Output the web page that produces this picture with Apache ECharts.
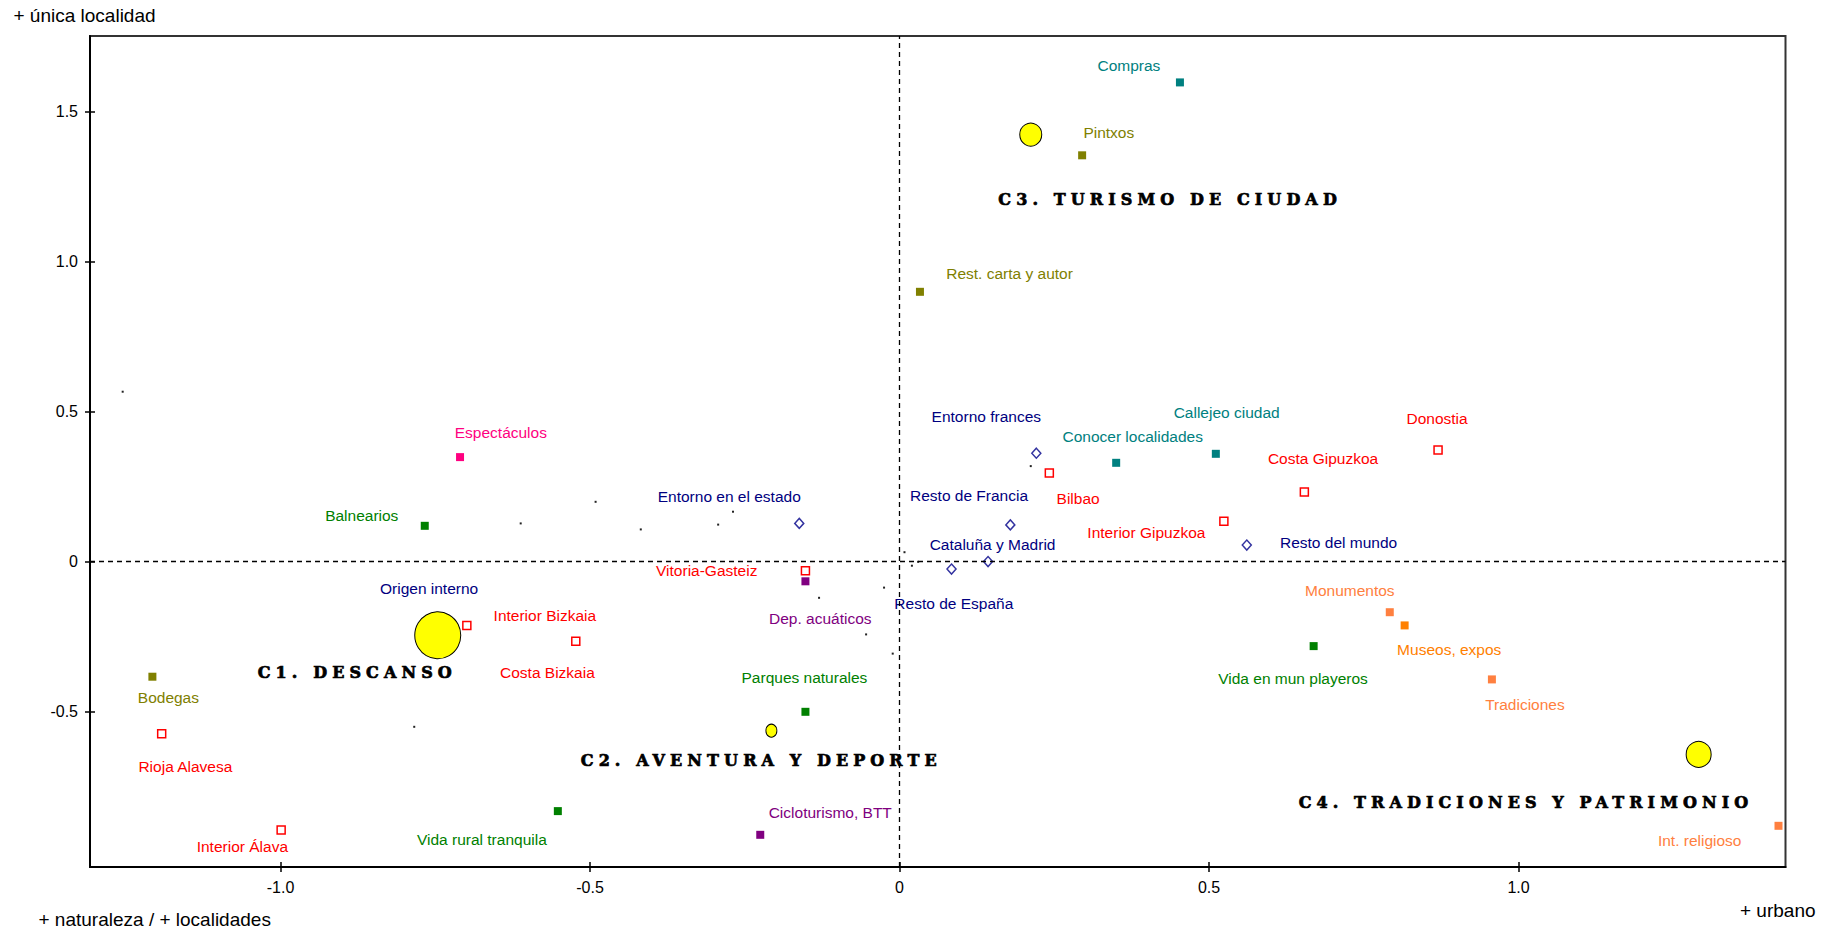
<!DOCTYPE html>
<html><head><meta charset="utf-8">
<script src="https://cdn.jsdelivr.net/npm/echarts@6/dist/echarts.min.js"></script>
<style>html,body{margin:0;padding:0;background:#fff}#chart{width:1833px;height:932px}</style>
</head><body><div id="chart"></div>
<script>
// ---------- axis ----------
const xRange = [-1.3078, 1.4313];
const yRange = [-1.0183, 1.7517];
const xTicks = [-1.0, -0.5, 0, 0.5, 1.0];
const yTicks = [-0.5, 0, 0.5, 1.0, 1.5];
const axisTitles = ['+ única localidad', '+ naturaleza / + localidades', '+ urbano'];

// ---------- city activities (teal) ----------
const cityNames = ['Compras', 'Conocer localidades', 'Callejeo ciudad'];
const cityX = [0.453, 0.350, 0.511];
const cityY = [1.597, 0.329, 0.359];

// ---------- gastronomy (olive) ----------
const gastroNames = ['Pintxos', 'Rest. carta y autor', 'Bodegas'];
const gastroX = [0.295, 0.033, -1.207];
const gastroY = [1.354, 0.899, -0.384];

// ---------- nature (green) ----------
const natureNames = ['Balnearios', 'Parques naturales', 'Vida rural tranquila', 'Vida en mun playeros'];
const natureX = [-0.767, -0.152, -0.552, 0.669];
const natureY = [0.119, -0.501, -0.832, -0.282];

// ---------- shows (pink) ----------
const showNames = ['Espectáculos'];
const showX = [-0.710];
const showY = [0.348];

// ---------- sport (purple) ----------
const sportNames = ['Dep. acuáticos', 'Cicloturismo, BTT'];
const sportX = [-0.152, -0.225];
const sportY = [-0.066, -0.911];

// ---------- heritage (salmon) ----------
const heritageNames = ['Monumentos', 'Tradiciones', 'Int. religioso'];
const heritageX = [0.792, 0.957, 1.420];
const heritageY = [-0.169, -0.393, -0.881];

// ---------- museums (orange) ----------
const museumNames = ['Museos, expos'];
const museumX = [0.816];
const museumY = [-0.213];

// ---------- destinations (red, hollow) ----------
const destNames = ['Donostia', 'Costa Gipuzkoa', 'Bilbao', 'Interior Gipuzkoa', 'Vitoria-Gasteiz', 'Interior Bizkaia', 'Costa Bizkaia', 'Rioja Alavesa', 'Interior Álava'];
const destX = [0.870, 0.654, 0.242, 0.524, -0.152, -0.699, -0.523, -1.192, -0.999];
const destY = [0.372, 0.232, 0.295, 0.134, -0.031, -0.213, -0.266, -0.574, -0.895];

// ---------- origin (navy, hollow diamonds) ----------
const originNames = ['Entorno frances', 'Resto de Francia', 'Cataluña y Madrid', 'Resto de España', 'Resto del mundo', 'Entorno en el estado', 'Origen interno'];
const originX = [0.221, 0.179, 0.143, 0.084, 0.561, -0.162, -0.760];
const originY = [0.361, 0.122, 0.000, -0.025, 0.055, 0.127, -0.195];

// ---------- cluster centroids ----------
const clusterNames = ['C1. DESCANSO', 'C2. AVENTURA Y DEPORTE', 'C3. TURISMO DE CIUDAD', 'C4. TRADICIONES Y PATRIMONIO'];
const clusterX = [-0.746, -0.207, 0.212, 1.291];
const clusterY = [-0.246, -0.564, 1.423, -0.643];

// ---------- unlabeled minor points ----------
const dotX = [-1.255, -0.612, -0.491, -0.418, -0.293, -0.269, -0.130, -0.025, -0.054, -0.011, 0.008, 0.020, 0.030, 0.212, -0.784];
const dotY = [0.566, 0.127, 0.199, 0.107, 0.123, 0.166, -0.121, -0.087, -0.243, -0.307, 0.031, -0.014, -0.001, 0.318, -0.551];

// ---------- label placement (px offsets from marker centre) ----------
const cityLabelOff = [[-51, -17], [16.5, -26], [10.8, -41.4]];
const gastroLabelOff = [[26.7, -22.6], [89.6, -18.4], [16, 21]];
const natureLabelOff = [[-63, -10], [-1, -34.4], [-76, 28.3], [-20.6, 32]];
const showLabelOff = [[40.8, -24.7]];
const sportLabelOff = [[14.8, 37], [70, -22.4]];
const heritageLabelOff = [[-40, -21.6], [33, 25.4], [-78.8, 15]];
const museumLabelOff = [[44.6, 24]];
const destLabelOff = [[-1, -31.5], [18.7, -33], [28.8, 25.3], [-77.5, 11], [-98.7, -0.7], [78, -9.6], [-28.4, 31.4], [23.7, 32.3], [-38.8, 16.7]];
const originLabelOff = [[-50, -36.7], [-41.3, -29.3], [4.5, -16.7], [2.3, 34.3], [91.8, -2.6], [-70, -26.6], [0, -32]];
const clusterTitleOff = [[-180, 37], [-190.6, 29.3], [-32.4, 64.6], [-400, 48]];
const clusterDiam = [[46, 47], [11, 13], [22, 23], [25, 26]];

const FONT = "'Liberation Sans', Arial, sans-serif";

function pts(names, xs, ys, offs) {
  return names.map((n, i) => ({ name: n, value: [xs[i], ys[i]], label: { offset: offs[i] } }));
}
function labelStyle(color) {
  return { show: true, position: 'inside', formatter: '{b}', color: color, fontSize: 15.5, fontFamily: FONT,
           backgroundColor: '#fff', padding: [0, 2] };
}
function filled(name, color, data) {
  return { name, type: 'scatter', symbol: 'rect', symbolSize: 8, z: 3, silent: true,
           itemStyle: { color: color, opacity: 1 }, label: labelStyle(color), data };
}
function hollow(name, color, symbol, size, data, stroke) {
  return { name, type: 'scatter', symbol, symbolSize: size, z: 3, silent: true,
           itemStyle: { color: '#fff', borderColor: stroke || color, borderWidth: 1.5, opacity: 1 },
           label: labelStyle(color), data };
}
const fmt = v => (v === 0 ? '0' : v.toFixed(1));

const chart = echarts.init(document.getElementById('chart'), null, { renderer: 'svg' });
const option = {
  animation: false,
  backgroundColor: '#fff',
  grid: { left: 90, right: 47.5, top: 36, bottom: 65, show: true, borderColor: '#333', borderWidth: 2, backgroundColor: 'transparent' },
  xAxis: [
    { type: 'value', min: xRange[0], max: xRange[1], position: 'bottom',
      axisLine: { onZero: false, lineStyle: { color: '#000', width: 2 } },
      axisTick: { show: true, length: 5, customValues: xTicks, lineStyle: { color: '#000', width: 1.5 } },
      axisLabel: { customValues: xTicks, formatter: fmt, margin: 12, fontSize: 16, color: '#000', fontFamily: FONT },
      splitLine: { show: false } },
    { type: 'value', min: xRange[0], max: xRange[1], position: 'bottom',
      axisLine: { show: false, onZero: false },
      axisTick: { show: true, inside: true, length: 5, customValues: xTicks, lineStyle: { color: '#000', width: 1.5 } },
      axisLabel: { show: false }, splitLine: { show: false } }
  ],
  yAxis: [
    { type: 'value', min: yRange[0], max: yRange[1], position: 'left',
      axisLine: { show: true, onZero: false, lineStyle: { color: '#000', width: 2 } },
      axisTick: { show: true, length: 5, customValues: yTicks, lineStyle: { color: '#000', width: 1.5 } },
      axisLabel: { customValues: yTicks, formatter: fmt, margin: 12, fontSize: 16, color: '#000', fontFamily: FONT },
      splitLine: { show: false } },
    { type: 'value', min: yRange[0], max: yRange[1], position: 'left',
      axisLine: { show: false, onZero: false },
      axisTick: { show: true, inside: true, length: 5, customValues: yTicks, lineStyle: { color: '#000', width: 1.5 } },
      axisLabel: { show: false }, splitLine: { show: false } }
  ],
  graphic: [
    { type: 'text', x: 13.5, y: 15.5, style: { text: axisTitles[0], fontSize: 19, fontFamily: FONT, fill: '#000', align: 'left', verticalAlign: 'middle' } },
    { type: 'text', x: 38.5, y: 919, style: { text: axisTitles[1], fontSize: 19, fontFamily: FONT, fill: '#000', align: 'left', verticalAlign: 'middle' } },
    { type: 'text', x: 1740, y: 910.5, style: { text: axisTitles[2], fontSize: 19, fontFamily: FONT, fill: '#000', align: 'left', verticalAlign: 'middle' } }
  ],
  series: [
    { name: 'ejes', type: 'scatter', data: [], z: 1, silent: true,
      markLine: { silent: true, symbol: ['none', 'none'], label: { show: false },
        lineStyle: { color: '#000', type: [5, 4], width: 1.3, opacity: 1 },
        data: [{ xAxis: 0 }, { yAxis: 0 }] } },
    { name: 'otros', type: 'scatter', symbol: 'rect', symbolSize: 2, z: 2, silent: true,
      itemStyle: { color: '#222', opacity: 1 }, data: dotX.map((x, i) => [x, dotY[i]]) },
    hollow('origen', '#000080', 'diamond', [9, 10], pts(originNames, originX, originY, originLabelOff), '#3333a0'),
    hollow('destino', '#ff0000', 'rect', 8, pts(destNames, destX, destY, destLabelOff)),
    filled('ciudad', '#008080', pts(cityNames, cityX, cityY, cityLabelOff)),
    filled('gastronomía', '#808000', pts(gastroNames, gastroX, gastroY, gastroLabelOff)),
    filled('naturaleza', '#008000', pts(natureNames, natureX, natureY, natureLabelOff)),
    filled('espectáculos', '#ff0080', pts(showNames, showX, showY, showLabelOff)),
    filled('deporte', '#800080', pts(sportNames, sportX, sportY, sportLabelOff)),
    filled('patrimonio', '#ff8040', pts(heritageNames, heritageX, heritageY, heritageLabelOff)),
    filled('museos', '#ff8000', pts(museumNames, museumX, museumY, museumLabelOff)),
    { name: 'clusters', type: 'scatter', symbol: 'circle', z: 4, silent: true,
      symbolSize: (v, p) => clusterDiam[p.dataIndex],
      itemStyle: { color: '#ffff00', borderColor: '#000', borderWidth: 1, opacity: 1 },
      label: { show: true, position: 'inside', align: 'left', verticalAlign: 'middle', formatter: '{b}',
               color: '#000', fontSize: 16, fontWeight: 'bold', fontFamily: "'DejaVu Serif', serif",
               textBorderColor: '#000', textBorderWidth: 0.7 },
      data: clusterNames.map((n, i) => ({ name: n, value: [clusterX[i], clusterY[i]], label: { offset: clusterTitleOff[i] } })) }
  ]
};
chart.setOption(option);

function spaceTitles() {
  document.querySelectorAll('#chart text').forEach(t => {
    if (clusterNames.indexOf(t.textContent) >= 0) {
      t.style.letterSpacing = '5.1px';
      t.setAttribute('letter-spacing', '5.1px');
    }
  });
}
spaceTitles();
chart.on('finished', spaceTitles);
setTimeout(spaceTitles, 50);
</script></body></html>
